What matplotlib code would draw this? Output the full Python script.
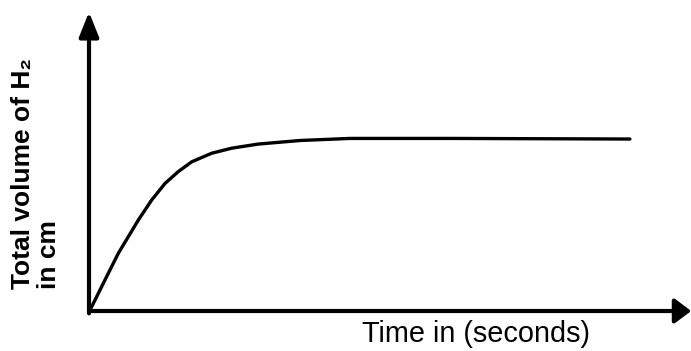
import matplotlib
matplotlib.use("Agg")
import matplotlib.pyplot as plt

# Volume of hydrogen collected against time (arbitrary units)
time_s = [0, 0.45, 2.66, 4.88, 6.54, 8.20, 10.43, 12.65, 14.86, 17.09,
          20.42, 23.74, 28.17, 35.1, 43.4, 60.1, 90.0]
volume_h2 = [0, 1.45, 10.5, 19.5, 25.1, 30.7, 37.5, 43.1, 47.1, 50.4,
             53.3, 55.0, 56.4, 57.6, 58.3, 58.3, 58.1]

x_label = "Time in (seconds)"
y_label = "Total volume of H\u2082\nin cm"

plt.rcParams["font.family"] = ["Liberation Sans", "DejaVu Sans"]

fig = plt.figure(figsize=(6.91, 3.51), dpi=100)
ax = fig.add_axes([89 / 691, 40 / 351, 601 / 691, 296 / 351])
ax.set_xlim(0, 100)
ax.set_ylim(0, 100)
ax.axis("off")

ax.plot(time_s, volume_h2, color="black", linewidth=2.4,
        solid_capstyle="round", solid_joinstyle="round")

# axes drawn as arrows
ax.annotate("", xy=(100.2, 0), xytext=(0, 0), annotation_clip=False,
            arrowprops=dict(arrowstyle="-|>,head_length=1.0,head_width=0.75",
                            color="black", lw=3, shrinkA=0, shrinkB=0,
                            mutation_scale=10))
ax.annotate("", xy=(0, 101), xytext=(0, -0.8), annotation_clip=False,
            arrowprops=dict(arrowstyle="-|>,head_length=1.5,head_width=0.6",
                            color="black", lw=3, shrinkA=0, shrinkB=0,
                            mutation_scale=10))

fig.text(362 / 691, 1 - 348 / 351, x_label, fontsize=20.8, ha="left", va="bottom")
fig.text(11 / 691, 1 - 289 / 351, y_label, fontsize=19, fontweight="bold",
         rotation=90, ha="left", va="bottom", multialignment="left",
         linespacing=1.1)

fig.savefig("out.png", dpi=100)
